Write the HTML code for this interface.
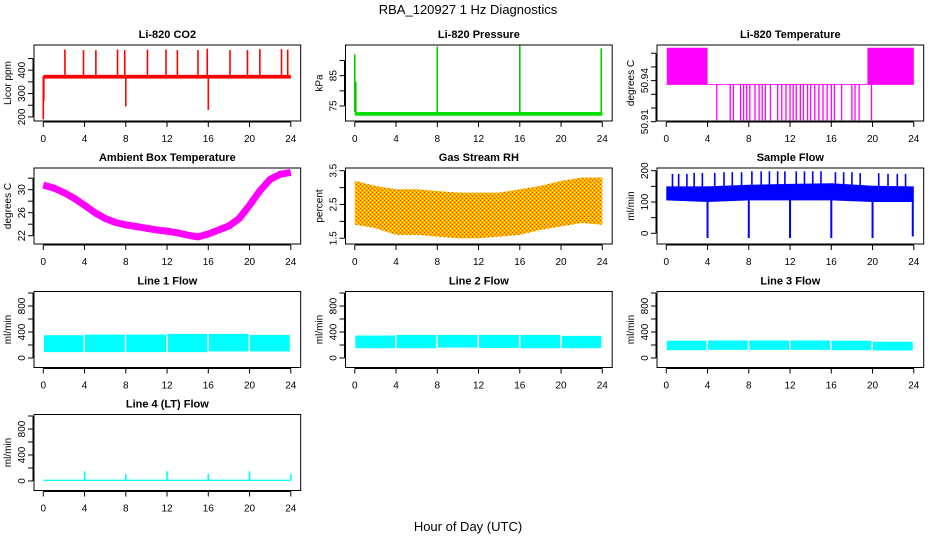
<!DOCTYPE html>
<html><head><meta charset="utf-8"><style>
html,body{margin:0;padding:0;background:#fff;}
svg{display:block;font-family:"Liberation Sans",sans-serif;}
.tl{font-size:10px;fill:#000;}
.pt{font-size:11px;font-weight:bold;fill:#000;}
</style></head><body>
<svg id="c" width="936" height="540" viewBox="0 0 936 540">
<defs>
<pattern id="rhpat" width="4" height="4" patternUnits="userSpaceOnUse">
<rect width="4" height="4" fill="#ffb000"/><rect width="1" height="1" fill="#ff3000"/><rect x="2" y="2" width="1" height="1" fill="#ff3000"/><rect x="2" y="0" width="1" height="1" fill="#ffff00"/><rect x="0" y="2" width="1" height="1" fill="#ffff00"/>
</pattern>
</defs>
<text x="468" y="14" text-anchor="middle" font-size="13">RBA_120927  1 Hz Diagnostics</text>
<text x="468" y="531" text-anchor="middle" font-size="13">Hour of Day (UTC)</text>
<g id="g"></g>
</svg>
<script>
// ---- data ----
const xTicks = [0,4,8,12,16,20,24];
// CO2
const co2Base = [372,372];
const co2SpikeT = [2.1,3.9,5.1,7.2,7.9,10.1,11.9,13.0,15.0,15.9,18.1,19.8,21.0,23.1,23.7];
const co2SpikeV = [488,486,486,488,486,488,488,486,486,492,486,486,490,490,488];
const co2DipT = [0.0,0.05,8.0,16.0];
const co2DipV = [190,268,245,230];
// Pressure
const presLo = 71.8, presHi = 73;
const presSpikeT = [0.0,0.1,8.0,16.0,23.9];
const presSpikeV = [92,83,94.6,95,94];
// Li-820 temperature
const tempBlockStart = [0.05,19.5];
const tempBlockEnd = [4.0,24.0];
const tempBlockHi = 50.964, tempBase = 50.9372, tempLow = 50.911;
const tempDipT = [4.9,6.2,6.5,7.2,7.5,7.8,8.1,8.6,9.0,9.3,9.6,10.1,10.8,11.2,11.6,12.0,12.3,12.6,13.0,13.3,13.7,14.0,14.4,14.8,15.2,15.6,16.0,16.3,17.0,18.0,18.3,18.7,19.9];
// Ambient box temp (hourly)
const ambT = [0,1,2,3,4,5,6,7,8,9,10,11,12,13,14,15,16,17,18,19,20,21,22,23,24];
const ambV = [30.8,30.3,29.5,28.5,27.3,26.0,25.0,24.3,23.9,23.6,23.3,23.0,22.8,22.5,22.1,21.8,22.3,23.0,23.7,25.0,27.3,29.8,31.8,32.7,33.0];
// RH (2-hourly envelope)
const rhT = [0,2,4,6,8,10,12,14,16,18,20,22,24];
const rhLo = [1.9,1.8,1.6,1.6,1.55,1.5,1.5,1.55,1.6,1.75,1.85,1.95,1.9];
const rhHi = [3.2,3.05,2.95,2.95,2.9,2.85,2.85,2.85,2.95,3.05,3.2,3.3,3.3];
// Sample flow
const sfT = [0,4,8,12,16,20,24];
const sfLo = [105,100,105,105,105,100,100];
const sfHi = [150,150,155,158,160,152,150];
const sfSpikeT = [0.6,1.2,2.0,2.7,3.5,4.7,5.6,6.4,7.3,8.3,9.2,10.0,10.8,11.5,12.6,13.4,14.2,15.0,16.4,17.2,18.0,18.8,20.6,21.5,22.4,23.2];
const sfSpikeV = [190,190,190,193,193,193,195,195,195,198,198,198,198,198,198,198,198,198,195,195,195,192,192,190,190,190];
const sfDipT = [4.0,8.0,12.0,16.0,20.0,23.9];
const sfDipV = [-15,-15,-15,-15,-15,-10];
// Line flows (segments between filter switches)
const flowSegStart = [0.05,4.05,8.05,12.05,16.05,20.05];
const flowSegEnd = [3.9,7.9,11.9,15.9,19.9,23.9];
const l1Lo = [90,90,90,90,100,100], l1Hi = [350,360,360,370,370,355];
const l2Lo = [150,150,160,155,150,150], l2Hi = [345,355,355,355,355,340];
const l3Lo = [120,125,125,125,120,115], l3Hi = [265,270,270,270,265,250];
const l4Base = [10,10];
const l4SpikeT = [4,8,12,16,20,24];
const l4SpikeV = [150,110,150,110,150,110];

// ---- layout helpers ----
const NS='http://www.w3.org/2000/svg';
const G=document.getElementById('g');
function mk(tag,at,parent){const e=document.createElementNS(NS,tag);for(const k in at)e.setAttribute(k,at[k]);(parent||G).appendChild(e);return e;}
const colL=[34,345.5,657], rowT=[45,168,291.5,414.5], W=266.7, H=76;
function panel(col,row,ylo,yhi,title,ylab,yticks,ylabels,name){
  const L=colL[col],T=rowT[row],B=T+H,R=L+W;
  const g=mk('g',{});
  
  
  const xs=h=>L+(h+0.9)/(25.86)*W;
  const ys=v=>B-(v-ylo)/(yhi-ylo)*H;
  const p={g,xs,ys,L,T,B,R};
  const pt=mk('text',{x:L+W/2,y:T-7,'text-anchor':'middle',class:'pt'},g);pt.textContent=title;
  
  
  const ax=mk('g',{},g);
  
  
  mk('line',{x1:xs(0),x2:xs(24),y1:B+1,y2:B+1,stroke:'#000'},ax);
  xTicks.forEach(t=>{mk('line',{x1:xs(t),x2:xs(t),y1:B+1,y2:B+6,stroke:'#000'},ax);
    const tx=mk('text',{x:xs(t),y:B+21,'text-anchor':'middle',class:'tl'},ax);tx.textContent=t;});
  const ay=mk('g',{},g);
  
  
  mk('line',{x1:L-1,x2:L-1,y1:ys(yticks[0]),y2:ys(yticks[yticks.length-1]),stroke:'#000'},ay);
  yticks.forEach(t=>mk('line',{x1:L-6,x2:L-1,y1:ys(t),y2:ys(t),stroke:'#000'},ay));
  ylabels.forEach(t=>{const tx=mk('text',{x:0,y:0,'text-anchor':'middle',class:'tl',transform:`translate(${L-9},${ys(t)}) rotate(-90)`},ay);tx.textContent=t;});
  const yl=mk('text',{x:0,y:0,'text-anchor':'middle',class:'tl',transform:`translate(${L-23},${T+H/2}) rotate(-90)`},g);yl.textContent=ylab;
  
  
  p.series=mk('g',{},g);
  
  
  p.box=()=>mk('rect',{x:L,y:T,width:W,height:H,fill:'none',stroke:'#000'},g);
  return p;
}
function vline(p,t,v1,v2,col,w){mk('line',{x1:p.xs(t),x2:p.xs(t),y1:p.ys(v1),y2:p.ys(v2),stroke:col,'stroke-width':w||1.3},p.series);}
function band(p,t0,t1,lo,hi,fill){const y1=p.ys(hi),y2=p.ys(lo);mk('rect',{x:p.xs(t0),y:Math.min(y1,y2),width:p.xs(t1)-p.xs(t0),height:Math.abs(y2-y1),fill:fill},p.series);}
function envelope(p,ts,lo,hi,fill){let d='M'+ts.map((t,i)=>p.xs(t)+','+p.ys(hi[i])).join('L');
  for(let i=ts.length-1;i>=0;i--)d+='L'+p.xs(ts[i])+','+p.ys(lo[i]);mk('path',{d:d+'Z',fill:fill},p.series);}

// CO2
let p=panel(0,0,182.6,507.7,'Li-820 CO2','Licor ppm',[200,250,300,350,400,450],[200,300,400],'co2-panel');
band(p,0,24,co2Base[0]-8,co2Base[1]+8,'#ff0000');
co2SpikeT.forEach((t,i)=>vline(p,t,co2Base[0],co2SpikeV[i],'#ff0000',1.6));
co2DipT.forEach((t,i)=>vline(p,t,co2Base[0],co2DipV[i],'#ff0000',1.6));
p.box();
// Pressure
p=panel(1,0,70.05,95.1,'Li-820 Pressure','kPa',[75,80,85,90],[75,85],'pressure-panel');
band(p,0,24,presLo,presHi,'#00dd00');
presSpikeT.forEach((t,i)=>vline(p,t,presHi,presSpikeV[i],'#00cc00',1.6));
p.box();
// Temperature
p=panel(2,0,50.9105,50.966,'Li-820 Temperature','degrees C',[50.91,50.92,50.93,50.94,50.95,50.96],[50.91,50.94],'li820-temperature-panel');
tempBlockStart.forEach((s,i)=>band(p,s,tempBlockEnd[i],tempBase,tempBlockHi,'#ff00ff'));
band(p,0,24,tempBase-0.0003,tempBase+0.0003,'#ff00ff');
tempDipT.forEach(t=>vline(p,t,tempBase,tempLow,'#ff00ff',1.3));
p.box();
// Ambient
p=panel(0,1,20.56,33.77,'Ambient Box Temperature','degrees C',[22,24,26,28,30,32],[22,26,30],'ambient-temperature-panel');
mk('polyline',{points:ambT.map((t,i)=>p.xs(t)+','+p.ys(ambV[i])).join(' '),fill:'none',stroke:'#ff00ff','stroke-width':7,'stroke-linejoin':'round'},p.series);
p.box();
// RH
p=panel(1,1,1.33,3.58,'Gas Stream RH','percent',[1.5,2,2.5,3,3.5],[1.5,2.5,3.5],'rh-panel');
envelope(p,rhT,rhLo,rhHi,'url(#rhpat)');
p.box();
// Sample flow
p=panel(2,1,-34.2,208.6,'Sample Flow','ml/min',[0,50,100,150,200],[0,100,200],'sample-flow-panel');
envelope(p,sfT,sfLo,sfHi,'#0000ff');
sfSpikeT.forEach((t,i)=>vline(p,t,140,sfSpikeV[i],'#0000ff',1.6));
sfDipT.forEach((t,i)=>vline(p,t,110,sfDipV[i],'#0000ff',2));
p.box();
// Line flows
const fT=[0,200,400,600,800,1000],fL=[0,400,800];
function flowPanel(col,row,title,lo,hi,name){const q=panel(col,row,-146.6,1023,title,'ml/min',fT,fL,name);
  flowSegStart.forEach((s,i)=>band(q,s,flowSegEnd[i],lo[i],hi[i],'#00ffff'));q.box();}
flowPanel(0,2,'Line 1 Flow',l1Lo,l1Hi,'line1-flow-panel');
flowPanel(1,2,'Line 2 Flow',l2Lo,l2Hi,'line2-flow-panel');
flowPanel(2,2,'Line 3 Flow',l3Lo,l3Hi,'line3-flow-panel');
p=panel(0,3,-146.6,1023,'Line 4 (LT) Flow','ml/min',fT,fL,'line4-flow-panel');
band(p,0,24,l4Base[0]-10,l4Base[1]+10,'#00ffff');
l4SpikeT.forEach((t,i)=>vline(p,t,l4Base[0],l4SpikeV[i],'#00ffff',1.6));
p.box();
</script>
</body></html>
